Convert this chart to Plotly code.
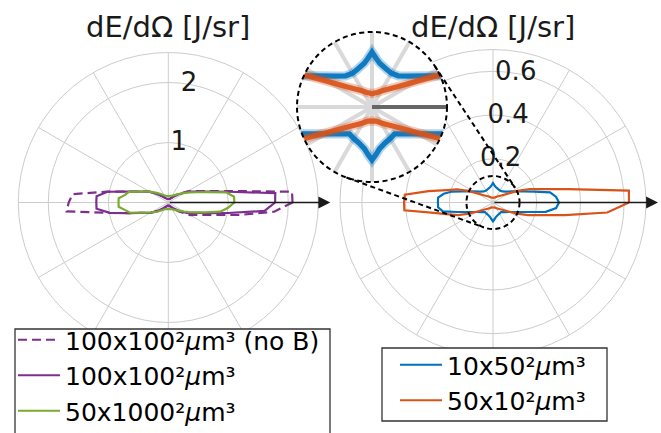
import math
import plotly.graph_objects as go

# ---------------------------------------------------------------------------
# Angular emission dE/dOmega [J/sr] versus emission angle (degrees)
# ---------------------------------------------------------------------------
ANG_L = [0, 5, 10, 15, 20, 25, 30, 40, 50, 60, 70, 80, 90, 100, 110, 120, 130, 140,
         150, 155, 160, 165, 170, 175, 180, 185, 190, 195, 200, 205, 210, 220, 230,
         240, 250, 260, 270, 280, 290, 300, 310, 320, 330, 335, 340, 345, 350, 355, 360]

# 100x100^2 um^3, no magnetic field
R_100_NOB = [2.07, 2.07, 1.10, 0.74, 0.56, 0.45, 0.37, 0.22, 0.13, 0.08, 0.06, 0.05, 0.05,
             0.05, 0.06, 0.08, 0.12, 0.21, 0.36, 0.43, 0.53, 0.71, 1.04, 1.60, 1.66, 1.70,
             1.00, 0.68, 0.51, 0.41, 0.35, 0.22, 0.13, 0.08, 0.06, 0.05, 0.05, 0.05, 0.06,
             0.08, 0.13, 0.23, 0.42, 0.49, 0.61, 0.80, 1.20, 1.77, 2.07]
# 100x100^2 um^3
R_100 = [1.78, 1.79, 1.03, 0.70, 0.53, 0.43, 0.35, 0.20, 0.12, 0.08, 0.065, 0.06, 0.06,
         0.06, 0.065, 0.08, 0.12, 0.20, 0.35, 0.43, 0.53, 0.70, 1.03, 1.20, 1.20, 1.20,
         0.99, 0.68, 0.51, 0.41, 0.35, 0.20, 0.12, 0.08, 0.065, 0.06, 0.06, 0.06, 0.065,
         0.08, 0.12, 0.20, 0.35, 0.41, 0.51, 0.68, 1.01, 1.61, 1.78]
# 50x1000^2 um^3
R_50X1000 = [1.10, 1.10, 0.98, 0.67, 0.50, 0.40, 0.32, 0.22, 0.16, 0.13, 0.12, 0.11, 0.11,
             0.11, 0.12, 0.14, 0.18, 0.25, 0.36, 0.43, 0.53, 0.68, 0.73, 0.83, 0.83, 0.83,
             0.73, 0.66, 0.50, 0.40, 0.33, 0.24, 0.17, 0.13, 0.12, 0.11, 0.11, 0.11, 0.12,
             0.13, 0.16, 0.21, 0.30, 0.38, 0.48, 0.63, 0.88, 1.00, 1.10]

ANG_R = [0, 5, 10, 15, 20, 25, 30, 40, 50, 60, 70, 80, 85, 90, 95, 100, 110, 120, 130, 140,
         150, 155, 160, 165, 170, 175, 180, 185, 190, 195, 200, 205, 210, 220, 230, 240,
         250, 260, 265, 270, 275, 280, 290, 300, 310, 320, 330, 335, 340, 345, 350, 355, 360]

# 10x50^2 um^3
R_10X50 = [0.302, 0.29, 0.265, 0.194, 0.147, 0.119, 0.101, 0.078, 0.066, 0.063, 0.066,
           0.072, 0.079, 0.089, 0.079, 0.072, 0.066, 0.063, 0.066, 0.078, 0.101, 0.119,
           0.147, 0.194, 0.229, 0.252, 0.252, 0.252, 0.233, 0.168, 0.127, 0.103, 0.087,
           0.068, 0.057, 0.059, 0.062, 0.069, 0.077, 0.086, 0.077, 0.069, 0.062, 0.059,
           0.057, 0.068, 0.087, 0.103, 0.127, 0.168, 0.245, 0.29, 0.302]
# 50x10^2 um^3
R_50X10 = [0.622, 0.624, 0.35, 0.235, 0.178, 0.125, 0.083, 0.050, 0.037, 0.030, 0.025,
           0.023, 0.022, 0.0215, 0.022, 0.023, 0.025, 0.030, 0.037, 0.050, 0.083, 0.125,
           0.175, 0.22, 0.30, 0.405, 0.407, 0.407, 0.274, 0.21, 0.17, 0.121, 0.082, 0.050,
           0.037, 0.030, 0.025, 0.023, 0.023, 0.023, 0.023, 0.023, 0.025, 0.030, 0.037,
           0.050, 0.082, 0.121, 0.17, 0.224, 0.334, 0.525, 0.622]

TICKS_L = [1, 2]
TICKS_R = [0.2, 0.4, 0.6]
TICK_TEXT_L = ["1", "2"]
TICK_TEXT_R = ["0.2", "0.4", "0.6"]
RMAX_L = 2.5
RMAX_R = 0.7
RMAX_ZOOM = 0.1215

NAMES_L = ["100x100²<i>μ</i>m³ (no B)", "100x100²<i>μ</i>m³", "50x1000²<i>μ</i>m³"]
NAMES_R = ["10x50²<i>μ</i>m³", "50x10²<i>μ</i>m³"]

# ---------------------------------------------------------------------------
# styling / geometry
# ---------------------------------------------------------------------------
W, H = 661, 433
FONT = "DejaVu Sans"
PURPLE = "#7E2F8E"
GREEN = "#77AC30"
BLUE = "#0072BD"
ORANGE = "#D95319"
GRID = "#cccccc"
INK = "#1a1a1a"
LW = 2.2

# polar subplots: centre x, centre y, radius (pixels)
GEO_L = (168.3, 202.5, 150)
GEO_R = (493.0, 202.5, 153)
GEO_Z = (372.0, 107.0, 75)
SPOT_R = GEO_R[2] * RMAX_ZOOM / RMAX_R   # magnified region on the right plot

# legend frames (left, top, right, bottom) and legend anchor points, pixels
BOX_L = (15, 329, 330, 450)
BOX_R = (382, 348, 607, 421)
LEG_L = (13, 317)
LEG_R = (395, 342)


def px_x(x):
    return x / W


def px_y(y):
    return 1 - y / H


def domain(geo):
    cx, cy, rad = geo
    return dict(x=[px_x(cx - rad), px_x(cx + rad)], y=[px_y(cy + rad), px_y(cy - rad)])


def polar_axes(geo, rmax, ticks, spoke_w=1, spoke_c=GRID, ring=True):
    return dict(
        domain=domain(geo),
        bgcolor="white",
        radialaxis=dict(range=[0, rmax], tickvals=ticks, showticklabels=False, ticks="",
                        showline=False, showgrid=bool(ticks), gridcolor=GRID, gridwidth=1),
        angularaxis=dict(dtick=30, showticklabels=False, ticks="", rotation=0,
                         direction="counterclockwise", gridcolor=spoke_c, gridwidth=spoke_w,
                         showline=ring, linecolor=GRID, linewidth=1),
    )


fig = go.Figure()

# left plot
left_series = [
    (R_100_NOB, PURPLE, "9px,5px", NAMES_L[0]),
    (R_100, PURPLE, "solid", NAMES_L[1]),
    (R_50X1000, GREEN, "solid", NAMES_L[2]),
]
for r, col, dash, name in left_series:
    fig.add_trace(go.Scatterpolar(r=r, theta=ANG_L, mode="lines", name=name,
                                  line=dict(color=col, width=LW, dash=dash),
                                  subplot="polar", legend="legend", hoverinfo="skip"))
fig.add_trace(go.Scatterpolar(r=TICKS_L, theta=[80] * len(TICKS_L), mode="text",
                              text=TICK_TEXT_L, textfont=dict(family=FONT, size=26, color=INK),
                              subplot="polar", showlegend=False, hoverinfo="skip"))

# right plot
right_series = [(R_10X50, BLUE, NAMES_R[0]), (R_50X10, ORANGE, NAMES_R[1])]
for r, col, name in right_series:
    fig.add_trace(go.Scatterpolar(r=r, theta=ANG_R, mode="lines", name=name,
                                  line=dict(color=col, width=LW),
                                  subplot="polar2", legend="legend2", hoverinfo="skip"))
fig.add_trace(go.Scatterpolar(r=TICKS_R, theta=[80] * len(TICKS_R), mode="text",
                              text=TICK_TEXT_R, textfont=dict(family=FONT, size=26, color=INK),
                              subplot="polar2", showlegend=False, hoverinfo="skip"))

# magnified view of the centre of the right plot
mag = GEO_Z[2] / SPOT_R
fig.add_trace(go.Scatterpolar(r=[0, RMAX_ZOOM * 1.2], theta=[0, 0], mode="lines",
                              line=dict(color="#555555", width=1.5 * mag), opacity=0.85,
                              subplot="polar3", showlegend=False, hoverinfo="skip"))
for r, col, name in right_series:
    fig.add_trace(go.Scatterpolar(r=r, theta=ANG_R, mode="lines",
                                  line=dict(color=col, width=LW * mag + 3), opacity=0.3,
                                  subplot="polar3", showlegend=False, hoverinfo="skip"))
    fig.add_trace(go.Scatterpolar(r=r, theta=ANG_R, mode="lines",
                                  line=dict(color=col, width=LW * mag - 1), opacity=0.9,
                                  subplot="polar3", showlegend=False, hoverinfo="skip"))

# titles and x-direction arrows
for cx, cy, rad in (GEO_L, GEO_R):
    fig.add_annotation(x=px_x(cx), y=px_y(27), xref="paper", yref="paper",
                       xanchor="center", yanchor="middle",
                       text="dE/dΩ [J/sr]", showarrow=False,
                       font=dict(family=FONT, size=29, color=INK))
    tip = cx + rad + 12
    fig.add_annotation(x=px_x(tip), y=px_y(cy), xref="paper", yref="paper", text="",
                       showarrow=True, ax=-(tip - cx), ay=0, axref="pixel", ayref="pixel",
                       arrowhead=2, arrowsize=1.7, arrowwidth=1.4, arrowcolor=INK)

# dashed outline of the magnified region and its connectors
DASH = "5px,3.5px"


def circle_shape(cx, cy, rad):
    return dict(type="circle", xref="paper", yref="paper", layer="above",
                x0=px_x(cx - rad), x1=px_x(cx + rad), y0=px_y(cy + rad), y1=px_y(cy - rad),
                line=dict(color="black", width=2, dash=DASH))


shapes = [circle_shape(*GEO_Z), circle_shape(GEO_R[0], GEO_R[1], SPOT_R)]
c1, r1 = GEO_Z[:2], GEO_Z[2]
c2, r2 = GEO_R[:2], SPOT_R
dx, dy = c2[0] - c1[0], c2[1] - c1[1]
base = math.atan2(dy, dx)
off = math.acos((r1 - r2) / math.hypot(dx, dy))
for s in (1, -1):
    a = base + s * off
    x1, y1 = c1[0] + r1 * math.cos(a), c1[1] + r1 * math.sin(a)
    x2, y2 = c2[0] + r2 * math.cos(a), c2[1] + r2 * math.sin(a)
    shapes.append(dict(type="line", xref="paper", yref="paper", layer="above",
                       x0=px_x(x1), y0=px_y(y1), x1=px_x(x2), y1=px_y(y2),
                       line=dict(color="black", width=2, dash=DASH)))

# legend frames
for x0, y0, x1, y1 in (BOX_L, BOX_R):
    shapes.append(dict(type="rect", xref="paper", yref="paper", layer="above",
                       x0=px_x(x0), x1=px_x(x1), y0=px_y(y1), y1=px_y(y0),
                       fillcolor="white", line=dict(color="#333333", width=1.3)))

legend_common = dict(xanchor="left", yanchor="top", bgcolor="rgba(0,0,0,0)",
                     borderwidth=0, font=dict(family=FONT, size=25, color="black"),
                     itemwidth=42)

fig.update_layout(
    width=W, height=H,
    margin=dict(l=0, r=0, t=0, b=0, autoexpand=False),
    paper_bgcolor="white",
    font=dict(family=FONT, color=INK),
    polar=polar_axes(GEO_L, RMAX_L, TICKS_L),
    polar2=polar_axes(GEO_R, RMAX_R, TICKS_R),
    polar3=polar_axes(GEO_Z, RMAX_ZOOM, [], spoke_w=4, spoke_c="#d9d9d9", ring=False),
    legend=dict(x=px_x(LEG_L[0]), y=px_y(LEG_L[1]), **legend_common),
    legend2=dict(x=px_x(LEG_R[0]), y=px_y(LEG_R[1]), **legend_common),
    shapes=shapes,
    showlegend=True,
)

fig.write_html("out.html")
